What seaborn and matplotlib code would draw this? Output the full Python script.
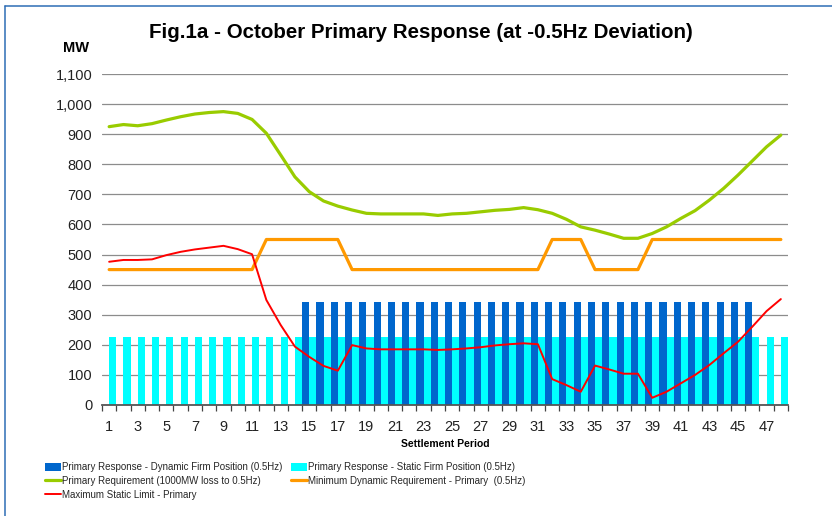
import numpy as np
import pandas as pd
import matplotlib
matplotlib.use("Agg")
import matplotlib.pyplot as plt
import seaborn as sns
from matplotlib.patches import Patch
from matplotlib.lines import Line2D
from matplotlib.ticker import FuncFormatter

# ---------------- data ----------------
periods = list(range(1, 49))

dynamic_firm = [None, None, None, None, None, None, None, None, None, None,
                None, None, None, None, 342, 342, 342, 342, 342, 342,
                342, 342, 342, 342, 342, 342, 342, 342, 342, 342,
                342, 342, 342, 342, 342, 342, 342, 342, 342, 342,
                342, 342, 342, 342, 342, 342, None, None]

static_firm = [226, 226, 226, 226, 226, 226, 226, 226, 226, 226,
               226, 226, 226, 226, 226, 226, 226, 226, 226, 226,
               226, 226, 226, 226, 226, 226, 226, 226, 226, 226,
               226, 226, 226, 226, 226, 226, 226, 226, 226, 226,
               226, 226, 226, 226, 226, 226, 226, 226]

primary_requirement = [925, 932, 928, 935, 947, 958, 967, 972, 975, 969,
                       949, 903, 831, 758, 709, 678, 661, 648, 637, 635,
                       635, 635, 635, 630, 635, 637, 642, 647, 650, 656,
                       649, 637, 617, 592, 581, 568, 554, 554, 570, 592,
                       620, 646, 681, 720, 764, 811, 858, 897]

min_dynamic = [450, 450, 450, 450, 450, 450, 450, 450, 450, 450,
               450, 550, 550, 550, 550, 550, 550, 450, 450, 450,
               450, 450, 450, 450, 450, 450, 450, 450, 450, 450,
               450, 550, 550, 550, 450, 450, 450, 450, 550, 550,
               550, 550, 550, 550, 550, 550, 550, 550]

max_static = [476, 482, 482, 484, 498, 509, 517, 523, 529, 518,
              501, 349, 266, 194, 160, 130, 114, 199, 188, 185,
              185, 185, 185, 183, 185, 188, 192, 198, 202, 205,
              202, 86, 66, 44, 131, 118, 104, 104, 24, 44,
              72, 100, 133, 172, 210, 260, 312, 352]

y_ticks = [0, 100, 200, 300, 400, 500, 600, 700, 800, 900, 1000, 1100]

names = {
    "dyn": "Primary Response - Dynamic Firm Position (0.5Hz)",
    "sta": "Primary Response - Static Firm Position (0.5Hz)",
    "req": "Primary Requirement (1000MW loss to 0.5Hz)",
    "min": "Minimum Dynamic Requirement - Primary  (0.5Hz)",
    "max": "Maximum Static Limit - Primary",
}
title = "Fig.1a - October Primary Response (at -0.5Hz Deviation)"

c_dyn, c_sta, c_req, c_min, c_max = "#0066CC", "#00FFFF", "#99CC00", "#FF9900", "#FF0000"

# ---------------- plot ----------------
sns.set_theme(style="white")
plt.rcParams['font.family'] = ['Liberation Sans', 'DejaVu Sans']

fig = plt.figure(figsize=(8.32, 5.16), dpi=100)
ax = fig.add_axes([102 / 832, 111 / 516, 686 / 832, 331 / 516])

cats = [str(p) for p in periods]
df = pd.DataFrame({
    "Period": cats * 2,
    "Series": [names["dyn"]] * len(cats) + [names["sta"]] * len(cats),
    "MW": [np.nan if v is None else v for v in dynamic_firm] + list(static_firm),
})
sns.barplot(data=df, x="Period", y="MW", hue="Series", order=cats,
            hue_order=[names["dyn"], names["sta"]], palette=[c_dyn, c_sta],
            saturation=1, width=1.0, gap=0, dodge=True, errorbar=None,
            legend=False, linewidth=0, ax=ax)

xpos = np.arange(len(cats))
sns.lineplot(x=xpos, y=primary_requirement, color=c_req, lw=2.3, ax=ax)
sns.lineplot(x=xpos, y=min_dynamic, color=c_min, lw=2.3, ax=ax)
sns.lineplot(x=xpos, y=max_static, color=c_max, lw=1.4, ax=ax)

ax.set_xlim(-0.5, len(cats) - 0.5)
ax.set_ylim(0, 1100)
ax.set_yticks(y_ticks)
ax.yaxis.set_major_formatter(FuncFormatter(lambda v, p: f"{int(v):,}"))
ax.set_xticks(xpos[::2])
ax.set_xticklabels(cats[::2])
ax.set_xticks(np.arange(-0.5, len(cats), 1), minor=True)

ax.yaxis.grid(True, color="#8c8c8c", lw=0.9)
ax.xaxis.grid(False)
ax.set_axisbelow(True)
for s in ["left", "right", "top"]:
    ax.spines[s].set_visible(False)
ax.spines["bottom"].set_color("#555555")
ax.spines["bottom"].set_linewidth(1.3)

ax.tick_params(axis="y", length=0, pad=7, labelsize=10.5, labelcolor="#222222")
ax.tick_params(axis="x", which="major", length=0, pad=11, labelsize=10.5, labelcolor="#222222")
ax.tick_params(axis="x", which="minor", bottom=True, length=4, width=0.9, color="#444444")
ax.set_xlabel("")
ax.set_ylabel("")

fig.text(421 / 832, 1 - 33 / 516, title, ha="center", va="center",
         fontsize=14.8, fontweight="bold", color="black")
fig.text(76 / 832, 1 - 48 / 516, "MW", ha="center", va="center",
         fontsize=10.5, fontweight="bold", color="black")
fig.text(445 / 832, 1 - 444 / 516, "Settlement Period", ha="center", va="center",
         fontsize=7.5, fontweight="bold", color="black")

leg_font = {"family": ["Liberation Sans", "DejaVu Sans"], "size": 7.0}
h1 = [Patch(facecolor=c_dyn, edgecolor="none"),
      Line2D([], [], color=c_req, lw=2.3),
      Line2D([], [], color=c_max, lw=1.4)]
l1 = [names["dyn"], names["req"], names["max"]]
h2 = [Patch(facecolor=c_sta, edgecolor="none"),
      Line2D([], [], color=c_min, lw=2.3)]
l2 = [names["sta"], names["min"]]
common = dict(loc="upper left", frameon=False, borderpad=0, borderaxespad=0,
              handlelength=1.65, handleheight=0.8, handletextpad=0.15,
              labelspacing=0.36, prop=leg_font)
fig.legend(h1, l1, bbox_to_anchor=(45 / 832, 1 - 462.5 / 516), **common)
fig.legend(h2, l2, bbox_to_anchor=(291 / 832, 1 - 462.5 / 516), **common)

fig.add_artist(Line2D([4.5 / 832, 4.5 / 832], [0, 1 - 5.5 / 516],
                      transform=fig.transFigure, color="#2e6db5", lw=1.1))
fig.add_artist(Line2D([4.5 / 832, 1], [1 - 5.5 / 516, 1 - 5.5 / 516],
                      transform=fig.transFigure, color="#2e6db5", lw=1.1))

fig.savefig("out.png", dpi=100)
